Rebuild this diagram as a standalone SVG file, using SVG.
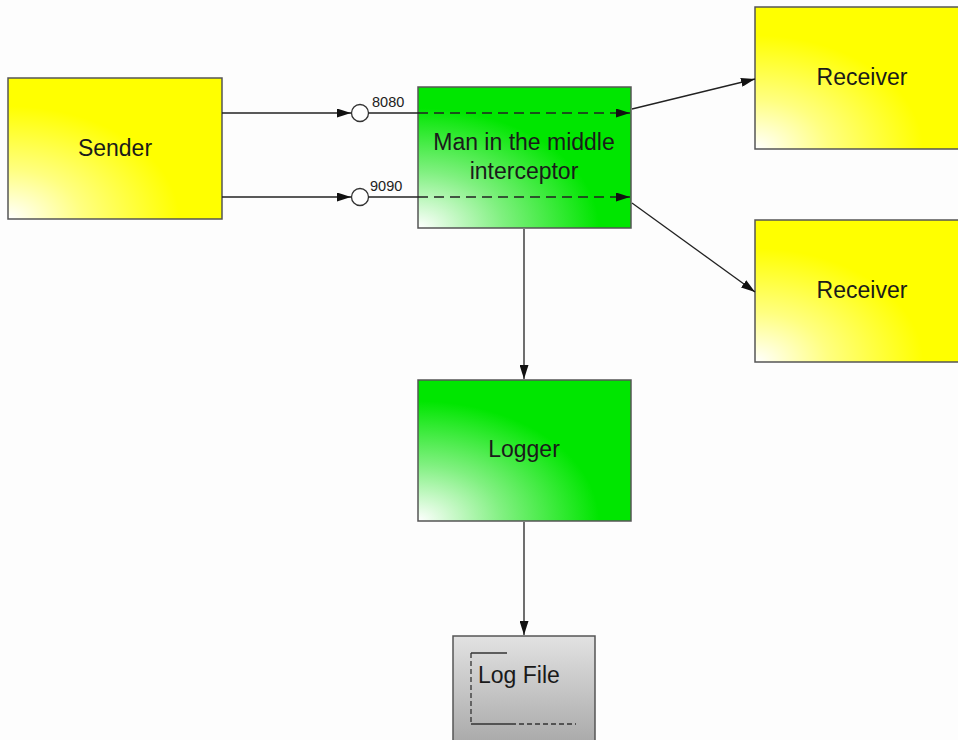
<svg xmlns="http://www.w3.org/2000/svg" width="958" height="740" viewBox="0 0 958 740">
<defs>
<radialGradient id="gy" gradientUnits="objectBoundingBox" cx="0" cy="1" r="1" fx="0" fy="1">
<stop offset="0" stop-color="#ffffff"/>
<stop offset="0.35" stop-color="#ffff80"/>
<stop offset="0.8" stop-color="#ffff00"/>
</radialGradient>
<radialGradient id="gg" gradientUnits="objectBoundingBox" cx="0" cy="1" r="1" fx="0" fy="1">
<stop offset="0" stop-color="#ffffff"/>
<stop offset="0.4" stop-color="#80f080"/>
<stop offset="0.85" stop-color="#00e600"/>
</radialGradient>
<linearGradient id="gr" x1="0" y1="0" x2="0" y2="1">
<stop offset="0" stop-color="#e2e2e2"/>
<stop offset="1" stop-color="#a8a8a8"/>
</linearGradient>
<marker id="ah" viewBox="0 0 14 9" refX="14" refY="4.5" markerWidth="14" markerHeight="9" markerUnits="userSpaceOnUse" orient="auto">
<path d="M0,0 L14,4.5 L0,9 Z" fill="#111"/>
</marker>
<style>
.box{stroke:#555;stroke-width:1.5}
.t{font-family:"Liberation Sans",Arial,sans-serif;font-size:23px;fill:#1a1a1a;text-anchor:middle}
.s{font-family:"Liberation Sans",Arial,sans-serif;font-size:14.5px;fill:#222}
.c{stroke:#222;stroke-width:1.3;fill:none}
.d{stroke:#222;stroke-width:1.5;fill:none;stroke-dasharray:10,6}
</style>
</defs>
<rect width="958" height="740" fill="#fdfdfd"/>
<g id="sender"><rect class="box" x="8" y="78" width="214" height="141" fill="url(#gy)"/><text class="t" x="115" y="156">Sender</text></g>
<g id="receiver1"><rect class="box" x="755" y="7" width="210" height="142" fill="url(#gy)"/><text class="t" x="862" y="85">Receiver</text></g>
<g id="receiver2"><rect class="box" x="755" y="220" width="210" height="142" fill="url(#gy)"/><text class="t" x="862" y="298">Receiver</text></g>
<g id="mitm"><rect class="box" x="418" y="87" width="213" height="141" fill="url(#gg)"/><text class="t" x="524" y="150">Man in the middle</text><text class="t" x="524" y="179">interceptor</text></g>
<g id="logger"><rect class="box" x="418" y="380" width="213" height="141" fill="url(#gg)"/><text class="t" x="524" y="457">Logger</text></g>
<g id="logfile"><rect class="box" x="453" y="636" width="142" height="110" fill="url(#gr)"/>
<path d="M471,653 H507" stroke="#333" stroke-width="1.3" fill="none"/>
<path d="M471,653 V724" stroke="#333" stroke-width="1.3" fill="none" stroke-dasharray="5,3"/>
<path d="M471,724 H511" stroke="#333" stroke-width="1.3" fill="none"/>
<path d="M511,724 H576" stroke="#333" stroke-width="1.3" fill="none" stroke-dasharray="5,3"/>
<text class="t" x="478" y="683" style="text-anchor:start">Log File</text></g>
<g id="connectors">
<path class="c" d="M222,113 H351" marker-end="url(#ah)"/>
<path class="c" d="M222,197 H351" marker-end="url(#ah)"/>
<circle cx="360" cy="113" r="8.5" fill="#fff" stroke="#333" stroke-width="1.3"/>
<circle cx="360" cy="197" r="8.5" fill="#fff" stroke="#333" stroke-width="1.3"/>
<path class="c" d="M368.5,113 H418"/>
<path class="c" d="M368.5,197 H418"/>
<path class="d" d="M418,113 H630" marker-end="url(#ah)"/>
<path class="d" d="M418,197 H630" marker-end="url(#ah)"/>
<text class="s" x="372" y="107">8080</text>
<text class="s" x="370" y="191">9090</text>
<path class="c" d="M632,109 L755,79" marker-end="url(#ah)"/>
<path class="c" d="M632,203 L755,292" marker-end="url(#ah)"/>
<path class="c" d="M524,229 V379" marker-end="url(#ah)"/>
<path class="c" d="M524,522 V635" marker-end="url(#ah)"/>
</g>
</svg>
